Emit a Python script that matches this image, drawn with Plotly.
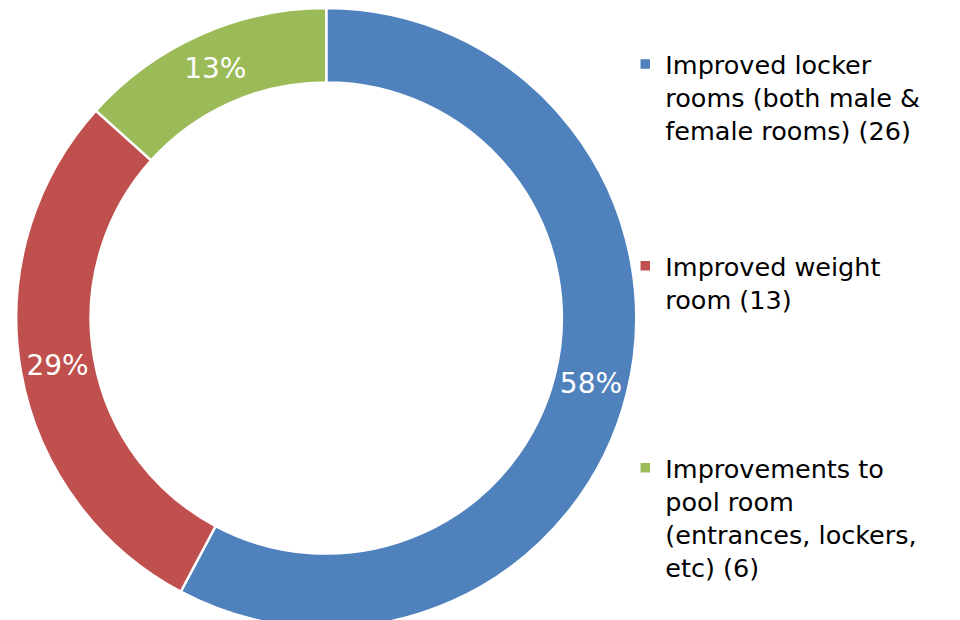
import plotly.graph_objects as go

labels = [
    "Improved locker<br>rooms (both male &<br>female rooms) (26)",
    "Improved weight<br>room (13)",
    "Improvements to<br>pool room<br>(entrances, lockers,<br>etc) (6)",
]
values = [26, 13, 6]
colors = ["#4F81BD", "#C0504D", "#9BBB59"]

# blank lines to space out the legend entries like the original
padding = ["<br> <br> <br> ", "<br> <br> <br> <br> ", ""]

fig = go.Figure(go.Pie(
    labels=[l + p for l, p in zip(labels, padding)],
    values=values,
    hole=0.76,
    sort=False,
    direction="clockwise",
    rotation=0,
    marker=dict(colors=colors, line=dict(color="white", width=2.5)),
    texttemplate="%{percent:.0%}",
    textposition="inside",
    insidetextorientation="horizontal",
    textfont=dict(color="white", size=28),
    hoverinfo="label+value+percent",
    domain=dict(x=[0.0, 0.663], y=[0.0, 1.0]),
))

fig.update_layout(
    width=960,
    height=620,
    margin=dict(l=0, r=0, t=0, b=0),
    paper_bgcolor="white",
    font=dict(family="DejaVu Sans", size=25.5, color="#000000"),
    legend=dict(x=0.643, y=0.947, xanchor="left", yanchor="top",
                valign="top", font=dict(size=25.5),
                bgcolor="rgba(0,0,0,0)"),
    showlegend=True,
)

fig.write_html("out.html")
